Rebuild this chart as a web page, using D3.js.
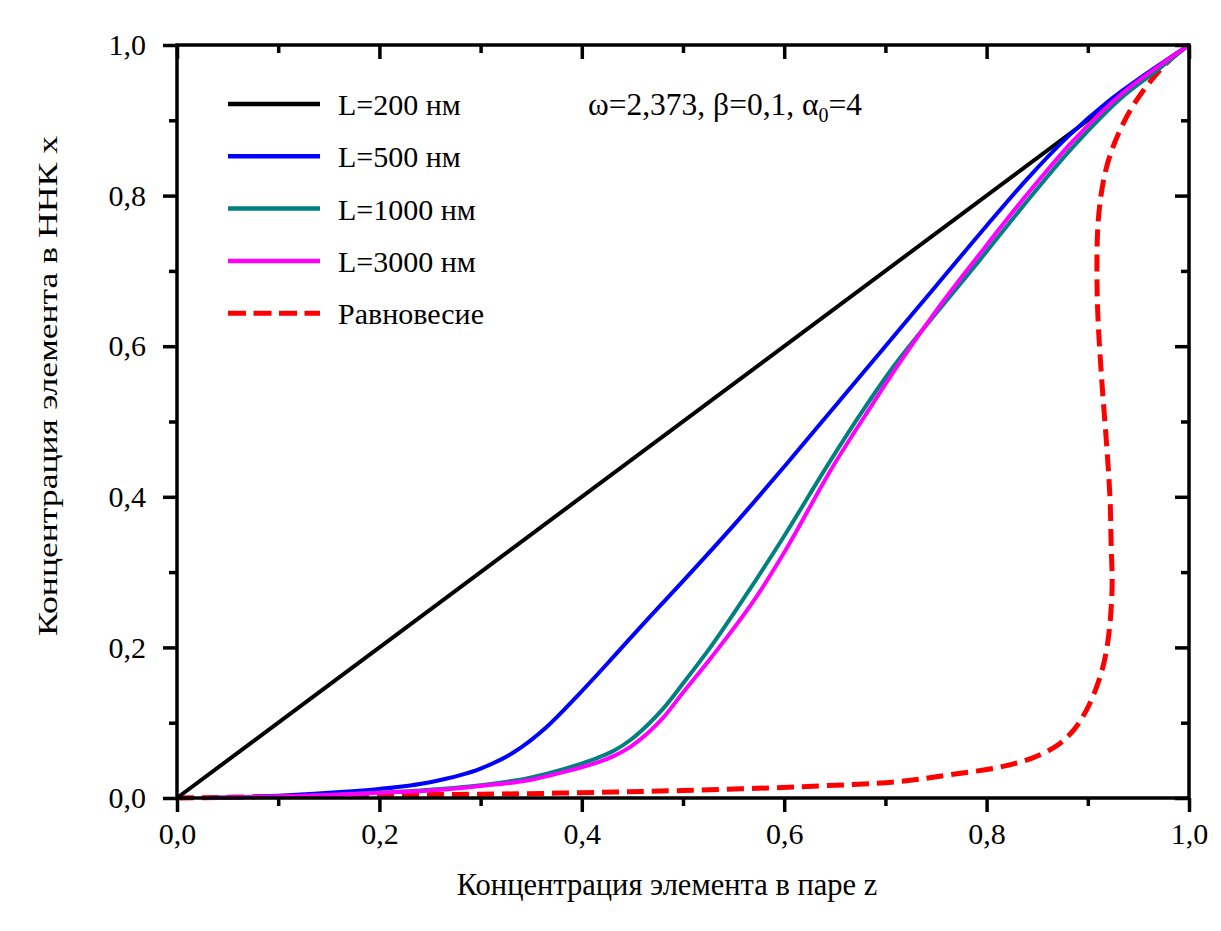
<!DOCTYPE html>
<html>
<head>
<meta charset="utf-8">
<script src="https://cdn.jsdelivr.net/npm/d3@7"></script>
<style>
  html, body { margin: 0; padding: 0; background: #ffffff; }
  svg { display: block; }
  text { font-family: "Liberation Serif", serif; fill: #000; }
</style>
</head>
<body>
<svg id="chart" width="1221" height="931"></svg>
<script>
// Concentration of the element in the vapour (z) vs. in the nanowire (x)
const z200 = [0, 1];
const x200 = [0, 1];

const z500 = [0.03, 0.10, 0.15, 0.20, 0.25, 0.30, 0.332, 0.365, 0.398, 0.431, 0.464, 0.50, 0.55, 0.60, 0.65, 0.70, 0.75, 0.80, 0.84, 0.88, 0.92, 0.96, 1.0];
const x500 = [0.0, 0.003, 0.007, 0.012, 0.021, 0.039, 0.060, 0.094, 0.139, 0.187, 0.236, 0.288, 0.362, 0.44, 0.52, 0.60, 0.68, 0.76, 0.822, 0.878, 0.925, 0.964, 1.0];

const z1000 = [0.03, 0.10, 0.15, 0.20, 0.25, 0.30, 0.349, 0.381, 0.415, 0.432, 0.448, 0.465, 0.48, 0.50, 0.527, 0.561, 0.60, 0.642, 0.675, 0.708, 0.754, 0.793, 0.836, 0.885, 0.935, 0.97, 1.0];
const x1000 = [0.0, 0.002, 0.004, 0.007, 0.011, 0.017, 0.027, 0.038, 0.053, 0.063, 0.077, 0.097, 0.118, 0.152, 0.200, 0.267, 0.348, 0.44, 0.509, 0.573, 0.650, 0.714, 0.786, 0.864, 0.932, 0.968, 1.0];

const z3000 = [0.03, 0.10, 0.15, 0.20, 0.25, 0.30, 0.349, 0.381, 0.415, 0.432, 0.448, 0.465, 0.48, 0.50, 0.527, 0.573, 0.60, 0.648, 0.68, 0.711, 0.754, 0.793, 0.836, 0.885, 0.935, 0.97, 1.0];
const x3000 = [0.0, 0.002, 0.004, 0.007, 0.010, 0.016, 0.024, 0.034, 0.047, 0.056, 0.068, 0.086, 0.106, 0.140, 0.185, 0.268, 0.326, 0.44, 0.508, 0.572, 0.654, 0.722, 0.795, 0.872, 0.937, 0.972, 1.0];

const zEq = [0, 0.1, 0.2, 0.3, 0.4, 0.5, 0.616, 0.714, 0.764, 0.813, 0.845, 0.870, 0.886, 0.898, 0.908, 0.916, 0.921, 0.924, 0.923, 0.922, 0.919, 0.914, 0.910, 0.909, 0.910, 0.913, 0.918, 0.925, 0.934, 0.945, 0.962, 0.978, 0.994, 1.0];
const xEq = [0, 0.002, 0.004, 0.005, 0.007, 0.010, 0.015, 0.022, 0.031, 0.041, 0.053, 0.070, 0.090, 0.115, 0.145, 0.18, 0.22, 0.28, 0.34, 0.396, 0.462, 0.551, 0.639, 0.705, 0.760, 0.800, 0.835, 0.865, 0.893, 0.920, 0.952, 0.976, 0.995, 1.0];

const seriesNames = ["L=200 нм", "L=500 нм", "L=1000 нм", "L=3000 нм", "Равновесие"];
const seriesColors = ["#000000", "#0000ff", "#008080", "#ff00ff", "#ff0000"];

const majorTicks = [0, 0.2, 0.4, 0.6, 0.8, 1.0];
const minorTicks = [0.1, 0.3, 0.5, 0.7, 0.9];
const tickLabels = ["0,0", "0,2", "0,4", "0,6", "0,8", "1,0"];

const xTitle = "Концентрация элемента в паре z";
const yTitle = "Концентрация элемента в ННК x";

const series = [
  { z: z200, x: x200 },
  { z: z500, x: x500 },
  { z: z1000, x: x1000 },
  { z: z3000, x: x3000 },
  { z: zEq, x: xEq }
].map((s, i) => ({
  name: seriesNames[i],
  color: seriesColors[i],
  dashed: i === 4,
  points: s.z.map((v, j) => [v, s.x[j]])
}));

const svg = d3.select("#chart");
const plotLeft = 177, plotRight = 1189, plotTop = 45, plotBottom = 798;

const xScale = d3.scaleLinear().domain([0, 1]).range([plotLeft, plotRight]);
const yScale = d3.scaleLinear().domain([0, 1]).range([plotBottom, plotTop]);

svg.append("rect").attr("width", 1221).attr("height", 931).attr("fill", "#ffffff");

// curves: the L-series are functions of z, the equilibrium curve folds back
const lineZ = d3.line()
  .x(d => xScale(d[0]))
  .y(d => yScale(d[1]))
  .curve(d3.curveMonotoneX);
const lineParam = d3.line()
  .x(d => xScale(d[0]))
  .y(d => yScale(d[1]))
  .curve(d3.curveCatmullRom.alpha(0.5));

const plot = svg.append("g");
// draw order: equilibrium under, black, then the rest
[4, 0, 1, 2, 3].forEach(i => {
  const s = series[i];
  plot.append("path")
    .datum(s.points)
    .attr("d", s.dashed ? lineParam : lineZ)
    .attr("fill", "none")
    .attr("stroke", s.color)
    .attr("stroke-width", s.dashed ? 5 : 4)
    .attr("stroke-dasharray", s.dashed ? "17,8" : null)
    .attr("stroke-linejoin", "round");
});

// axes
const fmt = d => tickLabels[majorTicks.indexOf(d)] ?? "";
function styleAxis(g) {
  g.attr("font-family", null).attr("font-size", null);
  g.select(".domain").remove();
  g.selectAll(".tick line").attr("stroke", "#000").attr("stroke-width", 3.5);
  g.selectAll(".tick text")
    .style("font-family", '"Liberation Serif", serif')
    .style("font-size", "30px")
    .attr("fill", "#000");
}

// bottom
svg.append("g").attr("transform", `translate(0,${plotBottom})`)
  .call(d3.axisBottom(xScale).tickValues(majorTicks).tickSize(14).tickPadding(11).tickFormat(fmt))
  .call(styleAxis);
svg.append("g").attr("transform", `translate(0,${plotBottom})`)
  .call(d3.axisBottom(xScale).tickValues(minorTicks).tickSize(8).tickFormat(""))
  .call(styleAxis);
// top (inward)
svg.append("g").attr("transform", `translate(0,${plotTop})`)
  .call(d3.axisTop(xScale).tickValues(majorTicks).tickSize(-14).tickFormat(""))
  .call(styleAxis);
svg.append("g").attr("transform", `translate(0,${plotTop})`)
  .call(d3.axisTop(xScale).tickValues(minorTicks).tickSize(-8).tickFormat(""))
  .call(styleAxis);
// left
svg.append("g").attr("transform", `translate(${plotLeft},0)`)
  .call(d3.axisLeft(yScale).tickValues(majorTicks).tickSize(14).tickPadding(17).tickFormat(fmt))
  .call(styleAxis);
svg.append("g").attr("transform", `translate(${plotLeft},0)`)
  .call(d3.axisLeft(yScale).tickValues(minorTicks).tickSize(8).tickFormat(""))
  .call(styleAxis);
// right (inward)
svg.append("g").attr("transform", `translate(${plotRight},0)`)
  .call(d3.axisRight(yScale).tickValues(majorTicks).tickSize(-14).tickFormat(""))
  .call(styleAxis);
svg.append("g").attr("transform", `translate(${plotRight},0)`)
  .call(d3.axisRight(yScale).tickValues(minorTicks).tickSize(-8).tickFormat(""))
  .call(styleAxis);

// frame
svg.append("rect")
  .attr("x", plotLeft).attr("y", plotTop)
  .attr("width", plotRight - plotLeft).attr("height", plotBottom - plotTop)
  .attr("fill", "none").attr("stroke", "#000").attr("stroke-width", 3.5);

// axis titles
svg.append("text")
  .attr("x", 667).attr("y", 895)
  .attr("text-anchor", "middle")
  .style("font-size", "30.5px")
  .text(xTitle);

svg.append("text")
  .attr("transform", "translate(57,386) rotate(-90)")
  .attr("text-anchor", "middle")
  .attr("textLength", 500)
  .attr("lengthAdjust", "spacingAndGlyphs")
  .style("font-size", "28px")
  .text(yTitle);

// legend
const legend = svg.append("g");
series.forEach((s, i) => {
  const y = 104 + i * 52.3;
  legend.append("line")
    .attr("x1", 228).attr("x2", 320)
    .attr("y1", y).attr("y2", y)
    .attr("stroke", s.color)
    .attr("stroke-width", s.dashed ? 5 : 4.5)
    .attr("stroke-dasharray", s.dashed ? "18,7.5" : null);
  legend.append("text")
    .attr("x", 338).attr("y", y + 11)
    .style("font-size", "30px")
    .text(s.name);
});

// parameter annotation
const note = svg.append("text")
  .attr("x", 588).attr("y", 115)
  .style("font-size", "31.5px");
note.append("tspan").text("ω=2,373, β=0,1, α");
note.append("tspan").attr("dy", 7).style("font-size", "20px").text("0");
note.append("tspan").attr("dy", -7).text("=4");
</script>
</body>
</html>
